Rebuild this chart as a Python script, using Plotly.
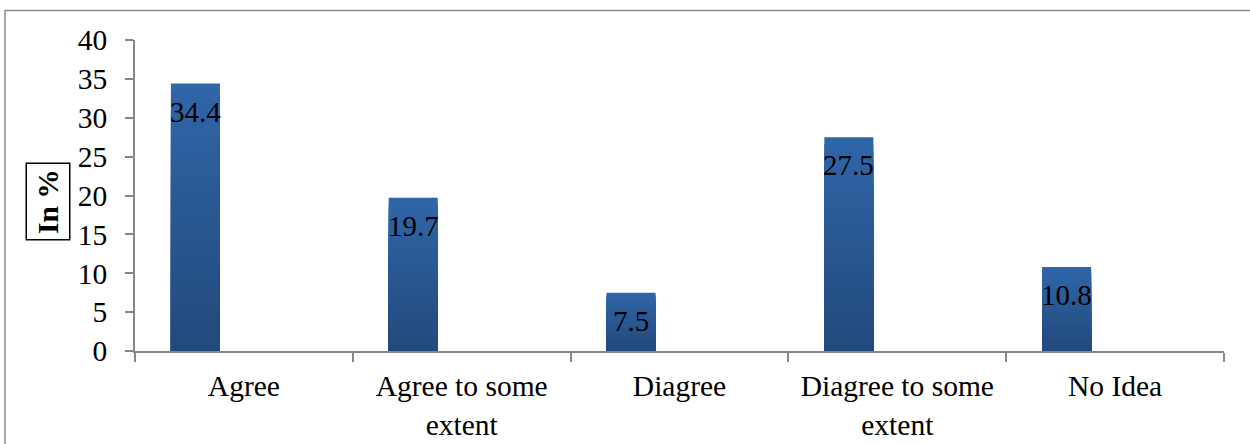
import plotly.graph_objects as go

# Survey responses (percentage of respondents)
categories = ["Agree", "Agree to some extent", "Diagree", "Diagree to some extent", "No Idea"]
tick_labels = ["Agree", "Agree to some<br>extent", "Diagree", "Diagree to some<br>extent", "No Idea"]
values = [34.4, 19.7, 7.5, 27.5, 10.8]
label_texts = ["34.4", "19.7", "7.5", "27.5", "10.8"]

FONT = "Liberation Serif"
FONT_SIZE = 29.5
AXIS_GREY = "#878787"

# Bars sit in the left third of each category slot
BAR_OFFSET = -0.335
BAR_WIDTH = 0.225

TOP_RGB = (47, 102, 168)
BOTTOM_RGB = (34, 72, 122)
N_LAYERS = 30

fig = go.Figure()

# Vertical gradient built from overlaid bars of decreasing height
for k in range(N_LAYERS, 0, -1):
    frac = k / N_LAYERS
    t = 1 - frac  # 0 at top layer, ~1 at bottom
    r = round(TOP_RGB[0] + (BOTTOM_RGB[0] - TOP_RGB[0]) * t)
    g = round(TOP_RGB[1] + (BOTTOM_RGB[1] - TOP_RGB[1]) * t)
    b = round(TOP_RGB[2] + (BOTTOM_RGB[2] - TOP_RGB[2]) * t)
    fig.add_trace(go.Bar(
        x=categories,
        y=[v * frac for v in values],
        offset=BAR_OFFSET,
        width=BAR_WIDTH,
        marker=dict(color=f"rgb({r},{g},{b})", line=dict(width=0)),
        hoverinfo="skip",
        showlegend=False,
    ))

# Value labels just inside the top of each bar
for i, (v, txt) in enumerate(zip(values, label_texts)):
    fig.add_annotation(
        x=i + BAR_OFFSET + BAR_WIDTH / 2, y=v,
        xref="x", yref="y",
        text=txt, showarrow=False,
        yanchor="top", yshift=-10,
        font=dict(family=FONT, size=29, color="black"),
    )

# Boxed y-axis title
fig.add_annotation(
    x=-0.0799, y=0.4807, xref="paper", yref="paper",
    text="<b>In %</b>", textangle=-90, showarrow=False,
    font=dict(family=FONT, size=FONT_SIZE, color="black"),
    bordercolor="black", borderwidth=1.5, borderpad=5,
    xanchor="center", yanchor="middle",
)

# Chart-area frame
fig.add_shape(
    type="rect", xref="paper", yref="paper",
    x0=-0.1194, y0=-0.5, x1=1.2, y1=1.0949,
    line=dict(color="#8c8c8c", width=1.5),
)

fig.update_layout(
    width=1250, height=444,
    margin=dict(l=135, r=26, t=40, b=93, autoexpand=False),
    paper_bgcolor="white", plot_bgcolor="white",
    barmode="overlay",
    font=dict(family=FONT, size=FONT_SIZE, color="black"),
    xaxis=dict(
        type="category",
        categoryorder="array", categoryarray=categories,
        tickmode="array", tickvals=categories, ticktext=tick_labels,
        range=[-0.5, 4.5],
        tickson="boundaries",
        ticks="outside", ticklen=9, tickwidth=1.5, tickcolor=AXIS_GREY,
        showline=True, linecolor=AXIS_GREY, linewidth=1.5,
        showgrid=False, zeroline=False,
        automargin=False,
        ticklabelstandoff=8,
        tickfont=dict(family=FONT, size=FONT_SIZE, color="black"),
    ),
    yaxis=dict(
        range=[0, 40], dtick=5, tick0=0,
        ticks="outside", ticklen=8, tickwidth=1.5, tickcolor=AXIS_GREY,
        showline=True, linecolor=AXIS_GREY, linewidth=1.5,
        showgrid=False, zeroline=False,
        automargin=False,
        ticklabelstandoff=12,
        tickfont=dict(family=FONT, size=FONT_SIZE, color="black"),
    ),
)

fig.write_html("out.html")
